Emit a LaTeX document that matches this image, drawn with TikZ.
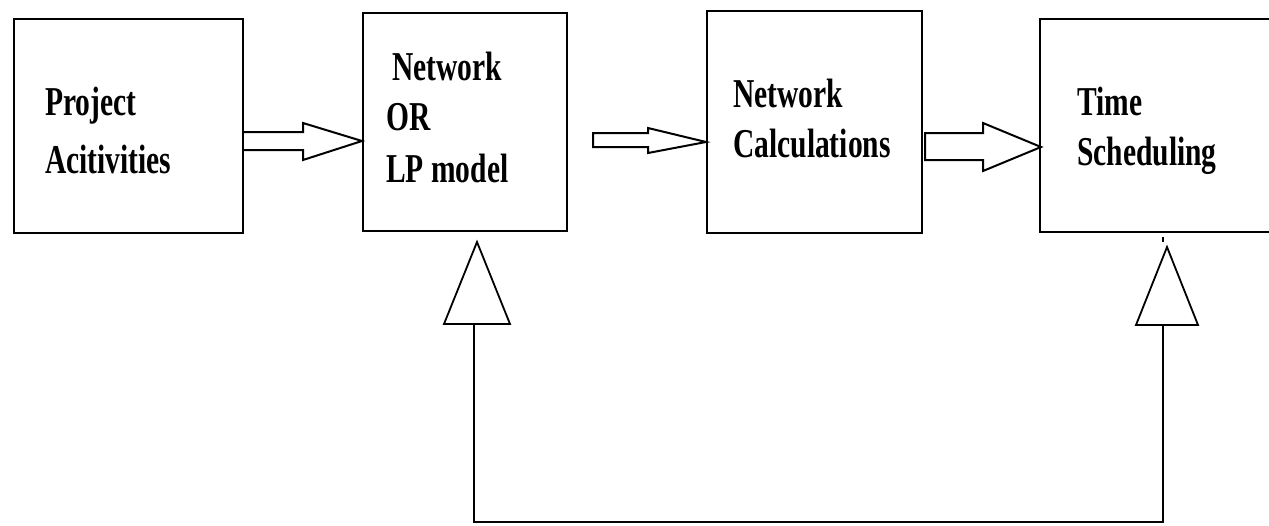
\documentclass[tikz,border=0pt]{standalone}
\usepackage{fontspec}
\newfontfamily\lblfont[FakeStretch=0.72]{Liberation Serif}
\begin{document}
\begin{tikzpicture}[x=1pt,y=-1pt,
  box/.style={draw,line width=2.2pt,inner sep=0pt,anchor=north west},
  lbl/.style={anchor=base west,inner sep=0pt,font=\lblfont\bfseries\fontsize{41}{50}\selectfont},
  blk/.style={draw,line width=2pt,line join=miter},
  tri/.style={draw,line width=1.8pt,line join=miter},
  fb/.style={draw,line width=2.2pt}]
\useasboundingbox (0,0) rectangle (1269,525);
\clip (0,0) rectangle (1269,525);
% boxes
\node[box,minimum width=229pt,minimum height=214pt] (b1) at (13,18) {};
\node[box,minimum width=204pt,minimum height=218pt] (b2) at (362,12) {};
\node[box,minimum width=215pt,minimum height=222pt] (b3) at (706,10) {};
\node[box,minimum width=260pt,minimum height=213pt] (b4) at (1039,18) {};
% labels
\node[lbl] (t1a) at (45,115) {Project};
\node[lbl] (t1b) at (45,173) {Acitivities};
\node[lbl] (t2a) at (392,80) {Network};
\node[lbl] (t2b) at (386,130) {OR};
\node[lbl] (t2c) at (386,182) {LP model};
\node[lbl] (t3a) at (733,107) {Network};
\node[lbl] (t3b) at (733,157) {Calculations};
\node[lbl] (t4a) at (1077,115) {Time};
\node[lbl] (t4b) at (1077,165) {Scheduling};
% block arrows
\draw[blk] (b1.east |- 0,132) -- (303,132) -- (303,123) -- (b2.west |- 0,141) -- (303,160) -- (303,150) -- (b1.east |- 0,150);
\draw[blk] (593,133) -- (648,133) -- (648,128) -- (b3.west |- 0,142) -- (648,153) -- (648,147) -- (593,147) -- cycle;
\draw[blk] (925,133) -- (983,133) -- (983,123) -- (1041,147) -- (983,171) -- (983,160) -- (925,160) -- cycle;
% feedback
\coordinate (a1) at (477,242);
\coordinate (a2) at (1167,247);
\draw[tri] (a1) -- (510,324) -- (444,324) -- cycle;
\draw[tri] (a2) -- (1198,325) -- (1136,325) -- cycle;
\draw[fb] (474,324) -- (474,522) -- (1163,522) -- (1163,325);
\draw[line width=1.5pt] (b4.south -| 1163,0) ++(0,4) -- ++(0,5);
\end{tikzpicture}
\end{document}
